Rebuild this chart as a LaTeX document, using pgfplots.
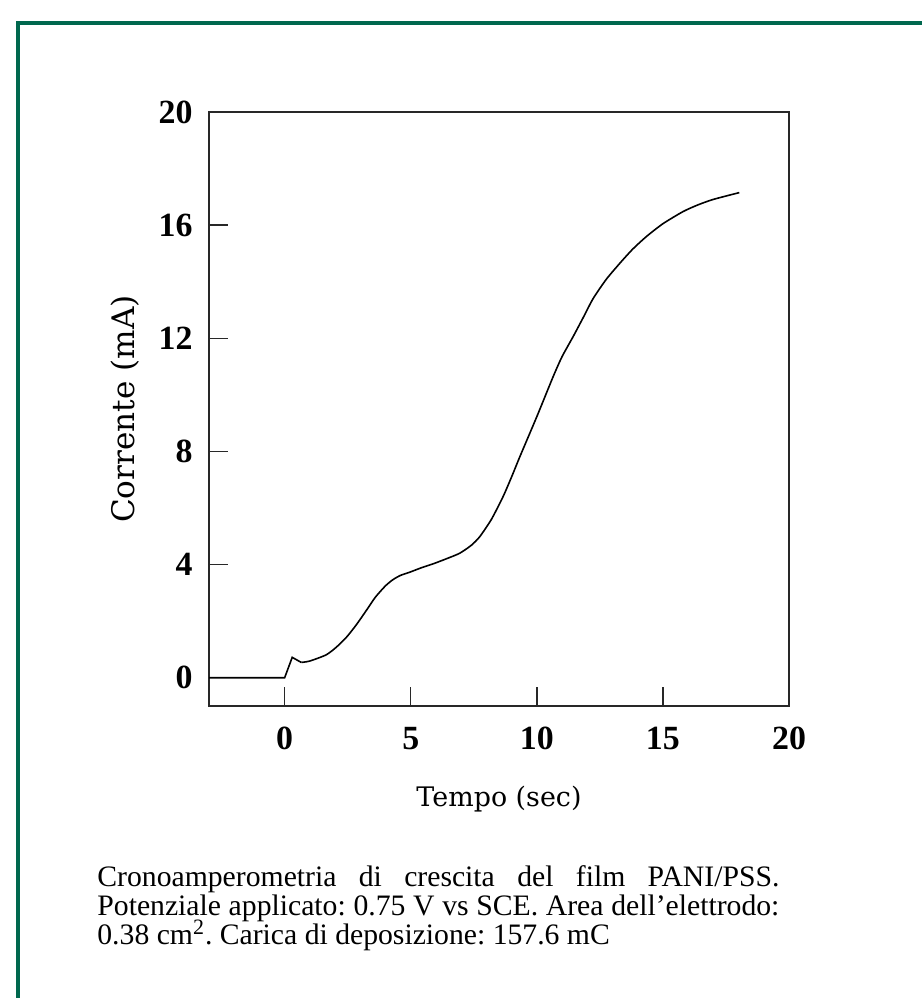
\documentclass[border=0pt]{standalone}
\usepackage{pgfplots}
\pgfplotsset{compat=1.18}
\usepackage{fontspec}
\setmainfont{Liberation Serif}
\newfontfamily\labelfont{DejaVu Serif}
\definecolor{framegreen}{RGB}{0,104,78}
\definecolor{axisgray}{RGB}{40,40,40}

\begin{document}
\frenchspacing
\begin{tikzpicture}
% page: 922 x 998 px, 1 px = 0.5 bp
\path[use as bounding box, fill=white] (0,0) rectangle (461bp,499bp);
% green frame (left and top)
\fill[framegreen] (8bp,0) rectangle (10bp,488.5bp);
\fill[framegreen] (8bp,486.5bp) rectangle (461bp,488.5bp);

\begin{axis}[
    at={(104.5bp,146bp)}, anchor=south west,
    scale only axis,
    width=290bp, height=297bp,
    xmin=-3, xmax=20, ymin=-1, ymax=20,
    xtick={0,5,10,15,20}, ytick={0,4,8,12,16,20},
    xtick pos=bottom, ytick pos=left,
    tick align=inside,
    major tick length=9.5bp,
    axis line style={axisgray, line width=0.7bp},
    tick style={axisgray, line width=0.7bp},
    /pgf/number format/assume math mode=true,
    ticklabel style={font=\bfseries\fontsize{17}{18}\selectfont},
    xticklabel style={anchor=base, yshift=-22bp},
    yticklabel style={anchor=east, inner xsep=0pt, xshift=-8bp},
    xlabel={Tempo (sec)},
    ylabel={Corrente (mA)},
    label style={font=\labelfont\fontsize{13.5}{15}\selectfont},
    xlabel style={at={(axis description cs:0.5,-0.170)}, anchor=base},
    ylabel style={at={(axis description cs:-0.1276,0.5)}, anchor=base,
                  font=\labelfont\fontsize{15.6}{17}\selectfont},
]
% onset: flat baseline, spike and dip
\addplot[black, line width=0.8bp] coordinates {
    (-3,0) (0,0) (0.3,0.72) (0.66,0.54)
};
% growth
\addplot[black, line width=0.8bp, smooth, tension=0.4] coordinates {
    (0.66,0.54) (1.0,0.59) (1.65,0.81)
    (2.05,1.08) (2.45,1.43) (2.85,1.88) (3.24,2.38) (3.6,2.85) (4.0,3.25)
    (4.3,3.47) (4.6,3.62) (4.96,3.73) (5.4,3.88) (5.9,4.03) (6.4,4.2) (6.94,4.4)
    (7.4,4.68) (7.74,4.99) (8.2,5.6) (8.66,6.4) (9.0,7.1) (9.33,7.82)
    (10.0,9.23) (10.65,10.65) (11.0,11.35) (11.44,12.06) (11.85,12.75)
    (12.23,13.4) (12.75,14.08) (13.29,14.65) (13.8,15.15) (14.35,15.6)
    (15.0,16.05) (15.8,16.48) (16.4,16.72) (17.0,16.91) (18.03,17.15)
};
\end{axis}

% caption
\node[anchor=base west, inner sep=0pt, text width=341bp, align=justify,
      font=\fontsize{14.9}{12.75}\selectfont]
    at (48.5bp,55.5bp)
    {\lineskiplimit=-20pt\relax
     Cronoamperometria di crescita del film PANI/PSS.\linebreak
     Potenziale applicato: 0.75 V vs SCE. Area dell’elettrodo:\linebreak
     0.38 cm\smash{\textsuperscript{\fontsize{11}{11}\selectfont 2}}. Carica di deposizione: 157.6 mC};
\end{tikzpicture}
\end{document}
